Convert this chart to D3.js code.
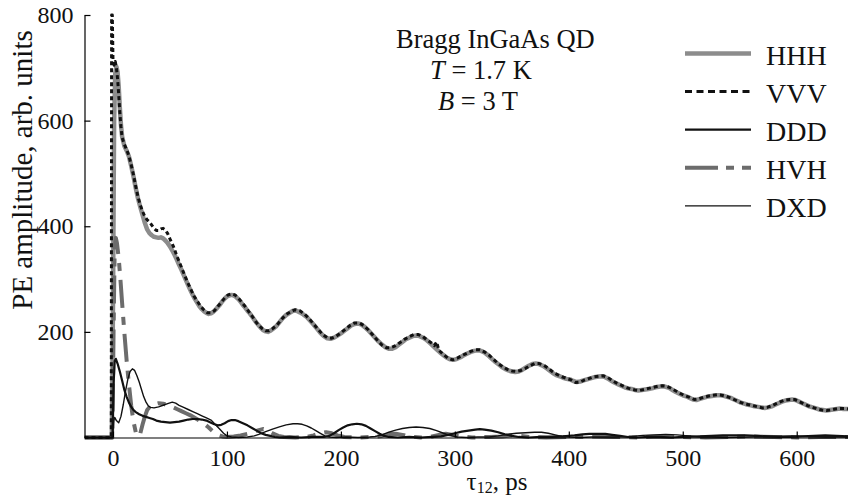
<!DOCTYPE html>
<html>
<head>
<meta charset="utf-8">
<script src="https://cdn.jsdelivr.net/npm/d3@7"></script>
<style>
  body { margin: 0; background: #fff; }
  svg { display: block; font-family: "Liberation Serif", "Times New Roman", serif; }
  .axis path, .axis line { stroke: #000; stroke-width: 1.2; }
  .axis text { font-family: "Liberation Serif", serif; font-size: 24px; fill: #111; }
</style>
</head>
<body>
<div id="chart"></div>
<script>
// delay tau12 (ps), PE amplitude (arb. units)
const hhh = [[-25,0],[-2,0],[-1,0],[0,250],[1,600],[2,690],[3,702],[4,692],[5,665],[6,625],[7,592],[8,570],[10,552],[12,543],[14,532],[16,514],[18,494],[20,472],[22,452],[24,436],[26,421],[28,406],[30,394],[32,387],[34,383],[36,380],[38,379],[40,378],[42,379],[44,377],[46,373],[48,368],[50,362],[52,354],[54,346],[56,337],[58,327],[60,318],[62,308],[64,298],[66,288],[68,279],[70,270],[72,262],[74,255],[76,248],[78,243],[80,239],[82,236],[84,234],[86,235],[88,238],[90,242],[92,247],[94,252],[96,258],[98,263],[100,267],[102,269],[104,270],[106,269],[108,266],[110,262],[112,257],[114,251],[116,246],[118,240],[120,235],[122,229],[124,223],[126,217],[128,212],[130,207],[132,203],[134,201],[136,200],[138,202],[140,205],[143,210],[146,218],[149,226],[152,232],[155,236],[158,240],[161,240],[164,237],[167,233],[170,228],[173,221],[176,214],[179,206],[182,198],[185,192],[188,188],[191,187],[194,189],[197,193],[200,197],[203,202],[206,207],[209,212],[212,215],[215,216],[218,214],[221,209],[224,203],[227,196],[230,189],[233,182],[236,176],[239,171],[242,168],[245,168],[248,171],[251,176],[254,181],[257,186],[260,189],[263,192],[266,193],[269,192],[272,189],[275,185],[278,179],[281,173],[284,167],[287,161],[290,156],[293,151],[296,148],[299,147],[302,149],[305,152],[308,156],[311,159],[314,162],[317,164],[320,165],[323,164],[326,161],[329,156],[332,150],[335,144],[338,139],[341,134],[344,130],[347,127],[350,125],[353,124],[356,125],[359,128],[362,132],[365,136],[368,139],[371,140],[374,139],[377,136],[380,132],[383,127],[386,122],[389,118],[392,116],[395,113],[398,111],[401,110],[404,107],[407,105],[410,106],[413,108],[416,110],[419,112],[422,114],[425,115],[428,116],[431,115],[434,112],[437,108],[440,104],[443,101],[446,98],[449,95],[452,93],[455,92],[458,90],[461,89],[464,90],[467,91],[470,92],[473,93],[476,95],[479,96],[482,97],[485,96],[488,94],[491,90],[494,86],[497,83],[500,80],[503,78],[506,75],[509,72],[512,71],[515,73],[518,75],[521,77],[524,78],[527,79],[530,80],[533,80],[536,79],[539,77],[542,75],[545,72],[548,69],[551,66],[554,64],[557,62],[560,61],[563,59],[566,58],[569,57],[572,56],[575,57],[578,59],[581,62],[584,65],[587,68],[590,70],[593,71],[596,72],[599,71],[602,68],[605,65],[608,62],[611,59],[614,57],[617,55],[620,53],[623,52],[626,51],[629,52],[632,53],[635,54],[638,55],[641,54],[645,54]];

const vvv = [[-25,0],[-1.5,0],[-1.2,800],[-0.6,800],[0,715],[1,705],[2,712],[3,700],[4,680],[5,650],[6,615],[7,588],[8,568],[10,555],[12,545],[14,533],[16,516],[18,497],[20,475],[22,455],[24,440],[26,428],[28,418],[30,412],[32,408],[34,402],[36,396],[38,392],[40,392],[42,395],[44,396],[46,393],[48,386],[50,376],[53,362],[56,344],[59,328],[62,312],[65,296],[68,282],[71,268],[74,258],[77,248],[80,241],[83,236],[86,236],[89,240],[92,248],[95,256],[98,264],[101,270],[104,272],[107,270],[110,264],[113,256],[116,248],[119,239],[122,230],[125,220],[128,212],[131,206],[134,202],[137,202],[140,206],[144,213],[148,224],[152,233],[156,238],[160,242],[164,240],[168,234],[172,225],[176,215],[180,205],[184,195],[188,189],[192,188],[196,192],[200,198],[204,205],[208,212],[212,217],[216,217],[220,212],[224,204],[228,194],[232,184],[236,175],[240,170],[244,170],[248,174],[252,180],[256,186],[260,191],[264,195],[268,195],[272,191],[276,184],[280,178],[282,174],[284,181],[286,165],[290,157],[294,150],[298,147],[302,150],[306,155],[310,159],[314,163],[318,166],[322,166],[326,162],[330,156],[334,148],[338,140],[342,134],[346,129],[350,126],[354,125],[358,127],[362,131],[366,136],[370,140],[374,140],[378,137],[382,131],[386,124],[390,119],[394,115],[398,112],[402,109],[406,104],[410,105],[414,109],[418,112],[422,115],[426,116],[430,117],[434,114],[438,108],[442,103],[446,99],[450,95],[454,92],[458,90],[462,89],[466,91],[470,93],[474,95],[478,97],[482,98],[486,97],[490,93],[494,88],[498,83],[502,79],[506,76],[510,72],[514,73],[518,76],[522,78],[526,80],[530,81],[534,80],[538,78],[542,75],[546,71],[550,67],[554,64],[558,62],[562,60],[566,58],[570,56],[574,57],[578,60],[582,64],[586,68],[590,71],[594,72],[598,72],[602,68],[606,64],[610,60],[614,57],[618,54],[622,52],[626,51],[630,52],[634,54],[638,55],[642,55],[645,54]];

const ddd = [[-25,0],[-0.5,0],[0.5,100],[1.5,145],[2.5,149],[4,140],[6,125],[8,108],[10,90],[12,77],[14,66],[16,58],[18,52],[20,48],[23,44],[26,41],[29,39],[32,37],[35,35],[38,32],[42,30],[46,29],[50,28],[54,29],[58,30],[62,32],[66,34],[70,35],[74,35],[78,34],[82,32],[86,28],[89,25],[92,23],[95,24],[98,27],[101,31],[104,33],[107,33],[110,31],[114,27],[118,23],[122,18],[126,13],[130,8],[134,5],[138,3],[142,1],[146,0],[155,1],[165,0],[175,1],[185,1],[190,3],[194,8],[198,14],[202,19],[206,23],[210,25],[214,26],[218,25],[222,22],[226,17],[230,12],[234,7],[238,3],[242,1],[250,0],[260,1],[270,0],[280,1],[288,2],[294,5],[300,8],[306,11],[312,13],[318,15],[322,16],[326,15],[332,13],[338,10],[344,6],[350,3],[356,1],[365,0],[375,1],[385,1],[395,2],[405,4],[412,6],[418,7],[425,7],[432,7],[438,5],[445,3],[452,1],[460,0],[470,1],[480,1],[490,0],[500,1],[515,2],[525,3],[535,4],[545,4],[555,4],[565,3],[575,2],[585,1],[595,1],[605,2],[615,3],[625,4],[635,3],[645,2]];

const hvh = [[-25,0],[-0.5,0],[0.5,200],[1.5,360],[2.5,378],[3.5,368],[5,340],[6.5,300],[8,255],[10,198],[12,145],[14,100],[16,60],[18,30],[20,10],[22,2],[24,8],[26,25],[28,40],[30,52],[33,60],[36,63],[40,65],[44,64],[48,61],[52,58],[56,54],[60,50],[64,46],[68,42],[72,37],[76,32],[80,26],[84,19],[88,11],[92,5],[96,2],[100,1],[106,2],[112,4],[118,7],[124,11],[128,14],[132,16],[136,13],[140,8],[145,3],[150,1],[160,0],[170,1],[176,4],[182,8],[187,10],[192,8],[197,4],[203,1],[215,0],[228,1],[236,3],[242,6],[248,7],[254,5],[260,2],[270,0],[280,2],[286,5],[292,7],[298,5],[304,2],[315,0],[330,1],[342,2],[350,4],[358,3],[366,1],[380,0],[400,1],[420,2],[440,1],[460,0],[480,2],[500,1],[520,0],[540,1],[560,2],[580,1],[600,0],[620,1],[645,1]];

const dxd = [[-25,0],[-0.5,0],[0.5,30],[1.5,38],[3,32],[5,28],[7,40],[9,62],[11,88],[13,110],[15,125],[17,130],[19,127],[21,117],[23,105],[25,91],[27,77],[29,67],[31,60],[33,57],[36,56],[40,58],[44,61],[48,64],[52,67],[55,65],[58,61],[62,57],[66,53],[70,49],[74,45],[78,41],[82,37],[86,33],[90,24],[94,15],[97,8],[100,3],[104,1],[110,0],[118,1],[124,3],[128,6],[134,11],[140,16],[146,20],[152,24],[158,26],[162,26],[166,25],[170,22],[174,18],[178,13],[182,8],[186,3],[190,1],[196,0],[205,1],[215,0],[225,1],[230,2],[236,5],[242,10],[248,14],[254,17],[260,19],[266,20],[272,19],[278,17],[284,13],[290,8],[296,4],[302,1],[310,0],[320,1],[330,1],[338,3],[346,6],[354,8],[362,9],[370,10],[376,10],[382,8],[388,5],[394,2],[400,1],[410,0],[420,1],[440,1],[455,2],[465,4],[475,5],[485,6],[495,5],[505,3],[515,1],[525,1],[540,0],[560,1],[580,2],[595,3],[610,2],[625,1],[645,1]];

const xTicks = [0, 100, 200, 300, 400, 500, 600];
const yTicks = [200, 400, 600, 800];
const legendNames = ["HHH", "VVV", "DDD", "HVH", "DXD"];

const width = 848, height = 499;

const svg = d3.select("#chart").append("svg")
    .attr("width", width)
    .attr("height", height);

let x = d3.scaleLinear().domain([-25, 645]).range([84.5, 848]);
let y = d3.scaleLinear().domain([0, 800]).range([437.5, 15]);

// series styles, in legend order
const styles = {
    HHH: {data: hhh, color: "#8c8c8c", width: 4.5, dash: null, legendDash: null},
    VVV: {data: vvv, color: "#111", width: 3, dash: "4,3", legendDash: "7,4.5"},
    DDD: {data: ddd, color: "#111", width: 2.2, dash: null, legendDash: null},
    HVH: {data: hvh, color: "#6c6c6c", width: 4, dash: "28,9,8,9", legendDash: "33,8,8,8"},
    DXD: {data: dxd, color: "#111", width: 1.4, dash: null, legendDash: null}
};

let line = d3.line()
    .x(d => x(d[0]))
    .y(d => y(d[1]));

// clip to the plot box
svg.append("clipPath").attr("id", "plot-clip")
    .append("rect")
    .attr("x", 84.5).attr("y", 10)
    .attr("width", 848 - 84.5).attr("height", 437.5 - 10 + 3);

let plot = svg.append("g").attr("clip-path", "url(#plot-clip)");

["HHH", "HVH", "DDD", "DXD", "VVV"].forEach(function(name) {
    let s = styles[name];
    plot.append("path")
        .attr("d", line(s.data))
        .attr("fill", "none")
        .attr("stroke", s.color)
        .attr("stroke-width", s.width)
        .attr("stroke-linejoin", "round")
        .attr("stroke-dasharray", s.dash);
});

// axes
let xAxis = svg.append("g")
    .attr("class", "axis")
    .attr("transform", "translate(0,437.5)")
    .call(d3.axisBottom(x).tickValues(xTicks).tickSizeInner(-6).tickSizeOuter(0).tickPadding(11));

let yAxis = svg.append("g")
    .attr("class", "axis")
    .attr("transform", "translate(84.5,0)")
    .call(d3.axisLeft(y).tickValues(yTicks).tickSizeInner(-6).tickSizeOuter(0).tickPadding(11));

svg.selectAll(".axis .domain").attr("stroke-width", 1.5);

// axis titles
svg.append("text")
    .attr("transform", "translate(32,170) rotate(-90)")
    .attr("text-anchor", "middle")
    .style("font-size", "29px")
    .attr("fill", "#111")
    .text("PE amplitude, arb. units");

let xt = svg.append("text")
    .attr("x", 497)
    .attr("y", 490)
    .attr("text-anchor", "middle")
    .style("font-size", "25px")
    .attr("fill", "#111");
xt.append("tspan").text("τ");
xt.append("tspan").attr("dy", 3).style("font-size", "16px").text("12");
xt.append("tspan").attr("dy", -3).text(", ps");

// sample annotation
let ann = svg.append("g").attr("fill", "#111").style("font-size", "26.5px");
ann.append("text").attr("x", 396).attr("y", 48).text("Bragg InGaAs QD");
let t2 = ann.append("text").attr("x", 430).attr("y", 78.5);
t2.append("tspan").style("font-style", "italic").text("T");
t2.append("tspan").text(" = 1.7 K");
let t3 = ann.append("text").attr("x", 438).attr("y", 109.5);
t3.append("tspan").style("font-style", "italic").text("B");
t3.append("tspan").text(" = 3 T");

// legend
let legend = svg.append("g");
legendNames.forEach(function(name, i) {
    let s = styles[name];
    let ly = 53.5 + i * 38.1;
    legend.append("line")
        .attr("x1", 685).attr("x2", 751)
        .attr("y1", ly).attr("y2", ly)
        .attr("stroke", s.color)
        .attr("stroke-width", s.width)
        .attr("stroke-dasharray", s.legendDash);
    legend.append("text")
        .attr("x", 766)
        .attr("y", ly + 11.5)
        .style("font-size", "28px")
        .attr("fill", "#111")
        .text(name);
});
</script>
</body>
</html>
